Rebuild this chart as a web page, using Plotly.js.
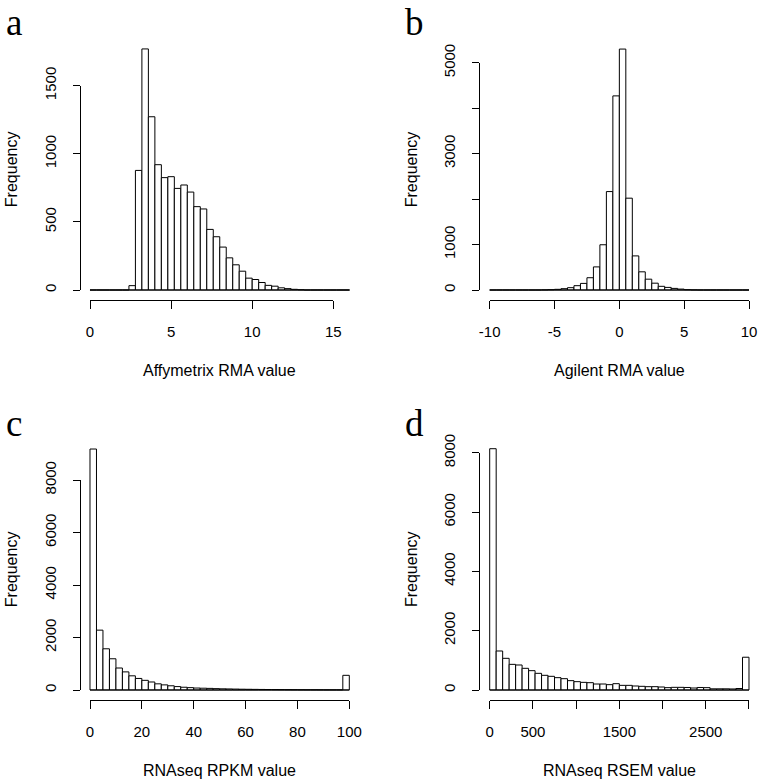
<!DOCTYPE html>
<html>
<head>
<meta charset="utf-8">
<script src="https://cdn.plot.ly/plotly-3.0.1.min.js"></script>
<style>html,body{margin:0;padding:0;background:#fff;}#chart{width:762px;height:783px;}</style>
</head>
<body>
<div id="chart"></div>
<script>
// ---------------- DATA ----------------
// Panel a: Affymetrix RMA value histogram (breaks 0..16 by 0.4)
const affyBreakStart = 0;
const affyBinWidth = 0.4;
const affyCounts = [0,0,0,0,0,0,32,878,1770,1272,920,825,832,746,771,719,612,595,445,391,
                    315,236,185,138,87,77,55,34,28,16,10,5,2,0,0,0,0,0,0,0];
const affyTickVals = [0,5,10,15];
const affyTickText = ['0','5','10','15'];
const affyYTickVals = [0,500,1000,1500];
const affyYTickText = ['0','500','1000','1500'];

// Panel b: Agilent RMA value histogram (breaks -10..10 by 0.5)
const agilBreakStart = -10;
const agilBinWidth = 0.5;
const agilCounts = [0,0,0,0,0,0,0,0,3,7,15,29,51,95,145,270,508,995,2165,4270,
                    5300,2020,750,400,238,150,81,57,35,20,7,2,0,0,0,0,0,0,0,0];
const agilTickVals = [-10,-5,0,5,10];
const agilTickText = ['-10','-5','0','5','10'];
const agilYTickVals = [0,1000,2000,3000,4000,5000];
const agilYTickText = ['0','1000','','3000','','5000'];

// Panel c: RNAseq RPKM value histogram (breaks 0..100 by 2.5)
const rpkmBreakStart = 0;
const rpkmBinWidth = 2.5;
const rpkmCounts = [9180,2280,1570,1190,838,690,540,440,368,305,235,195,160,130,105,90,75,68,62,52,
                    45,40,35,30,27,24,21,19,17,15,13,12,10,9,8,7,6,6,5,559];
const rpkmTickVals = [0,20,40,60,80,100];
const rpkmTickText = ['0','20','40','60','80','100'];
const rpkmYTickVals = [0,2000,4000,6000,8000];
const rpkmYTickText = ['0','2000','4000','6000','8000'];

// Panel d: RNAseq RSEM value histogram (breaks 0..3000 by 75)
const rsemBreakStart = 0;
const rsemBinWidth = 75;
const rsemCounts = [8135,1315,1068,865,843,731,652,562,495,461,416,382,315,281,258,247,202,202,180,213,
                    157,157,135,124,112,112,101,79,90,90,85,67,85,79,40,40,40,35,50,1105];
const rsemTickVals = [0,500,1000,1500,2000,2500,3000];
const rsemTickText = ['0','500','','1500','','2500',''];
const rsemYTickVals = [0,2000,4000,6000,8000];
const rsemYTickText = ['0','2000','4000','6000','8000'];

const panelLetters = ['a','b','c','d'];
const xTitles = ['Affymetrix RMA value','Agilent RMA value','RNAseq RPKM value','RNAseq RSEM value'];
const yTitle = 'Frequency';

// ---------------- LAYOUT (pixel calibration) ----------------
const W = 762, H = 783;
const FONT = 'Liberation Sans, Arial, sans-serif';
const panels = [
  {counts: affyCounts, start: affyBreakStart, bw: affyBinWidth, xt: affyTickVals, xtt: affyTickText, yt: affyYTickVals, ytt: affyYTickText,
   xRefVal: 0, xRefPx: 90, xs: 16.22, yRefPx: 290, ys: 0.1362, left: 0, top: 0},
  {counts: agilCounts, start: agilBreakStart, bw: agilBinWidth, xt: agilTickVals, xtt: agilTickText, yt: agilYTickVals, ytt: agilYTickText,
   xRefVal: -10, xRefPx: 489.7, xs: 12.965, yRefPx: 290, ys: 0.04546, left: 400, top: 0},
  {counts: rpkmCounts, start: rpkmBreakStart, bw: rpkmBinWidth, xt: rpkmTickVals, xtt: rpkmTickText, yt: rpkmYTickVals, ytt: rpkmYTickText,
   xRefVal: 0, xRefPx: 90, xs: 2.593, yRefPx: 690, ys: 0.02625, left: 0, top: 400},
  {counts: rsemCounts, start: rsemBreakStart, bw: rsemBinWidth, xt: rsemTickVals, xtt: rsemTickText, yt: rsemYTickVals, ytt: rsemYTickText,
   xRefVal: 0, xRefPx: 489.7, xs: 0.08643, yRefPx: 690, ys: 0.02966, left: 400, top: 400}
];

function xPx(p, v){ return p.xRefPx + (v - p.xRefVal) * p.xs; }
function yPx(p, v){ return p.yRefPx - v * p.ys; }

const traces = [];
const layout = {
  width: W, height: H,
  margin: {l:0, r:0, t:0, b:0},
  paper_bgcolor: '#ffffff', plot_bgcolor: 'rgba(0,0,0,0)',
  showlegend: false,
  bargap: 0,
  annotations: []
};

panels.forEach((p, i) => {
  const n = i + 1, m = i + 5;
  const nb = p.counts.length;
  const lastBreak = p.start + nb * p.bw;
  const span = lastBreak - p.start;
  const xr = [p.start - 0.04 * span, lastBreak + 0.04 * span];
  const maxC = Math.max(...p.counts);
  const yr = [-0.04 * maxC, 1.04 * maxC];
  const centers = p.counts.map((_, k) => p.start + p.bw * (k + 0.5));

  const xa = 'x' + (n === 1 ? '' : n), ya = 'y' + (n === 1 ? '' : n);
  traces.push({type: 'bar', x: centers, y: p.counts, width: p.bw, xaxis: xa, yaxis: ya,
    marker: {color: '#ffffff', line: {color: '#000000', width: 1}}, hoverinfo: 'x+y'});
  traces.push({type: 'scatter', mode: 'lines', x: [p.start, lastBreak], y: [0, 0], xaxis: xa, yaxis: ya,
    line: {color: '#000000', width: 1}, hoverinfo: 'skip'});
  traces.push({type: 'scatter', mode: 'markers', x: [], y: [], xaxis: 'x' + m, yaxis: 'y' + m, hoverinfo: 'skip'});

  const xl = xPx(p, xr[0]), xrpx = xPx(p, xr[1]);
  const yb = yPx(p, yr[0]), yt = yPx(p, yr[1]);
  layout['xaxis' + (n === 1 ? '' : n)] = {domain: [xl / W, xrpx / W], range: xr, visible: false, fixedrange: true, anchor: ya};
  layout['yaxis' + (n === 1 ? '' : n)] = {domain: [1 - yb / H, 1 - yt / H], range: yr, visible: false, fixedrange: true, anchor: xa};

  const tx0 = p.xt[0], tx1 = p.xt[p.xt.length - 1];
  const ty0 = p.yt[0], ty1 = p.yt[p.yt.length - 1];
  layout['xaxis' + m] = {
    domain: [xPx(p, tx0) / W, xPx(p, tx1) / W], range: [tx0, tx1],
    anchor: 'free', position: 1 - yb / H,
    showline: true, linecolor: '#000', linewidth: 1, showgrid: false, zeroline: false,
    ticks: 'outside', ticklen: 8, tickwidth: 1, tickcolor: '#000',
    tickmode: 'array', tickvals: p.xt, ticktext: p.xtt, ticklabelstandoff: 10,
    tickfont: {family: FONT, size: 15, color: '#000'}, fixedrange: true
  };
  layout['yaxis' + m] = {
    domain: [1 - yPx(p, ty0) / H, 1 - yPx(p, ty1) / H], range: [ty0, ty1],
    anchor: 'free', position: xl / W,
    showline: true, linecolor: '#000', linewidth: 1, showgrid: false, zeroline: false,
    ticks: 'outside', ticklen: 7, tickwidth: 1, tickcolor: '#000',
    tickmode: 'array', tickvals: p.yt, ticktext: p.ytt, tickangle: -90, ticklabelstandoff: 11,
    tickfont: {family: FONT, size: 15, color: '#000'}, fixedrange: true
  };

  layout.annotations.push({xref: 'paper', yref: 'paper', x: xPx(p, (xr[0] + xr[1]) / 2) / W, y: 1 - (p.top + 370) / H,
    text: xTitles[i], showarrow: false, xanchor: 'center', yanchor: 'middle',
    font: {family: FONT, size: 16, color: '#000'}});
  layout.annotations.push({xref: 'paper', yref: 'paper', x: (p.left + 11.7) / W, y: 1 - ((yb + yt) / 2) / H,
    text: yTitle, showarrow: false, textangle: -90, xanchor: 'center', yanchor: 'middle',
    font: {family: FONT, size: 16, color: '#000'}});
  layout.annotations.push({xref: 'paper', yref: 'paper', x: (p.left + 14) / W, y: 1 - (p.top + 23) / H,
    text: panelLetters[i], showarrow: false, xanchor: 'center', yanchor: 'middle',
    font: {family: 'Liberation Serif, Times New Roman, serif', size: 37, color: '#000'}});
});

Plotly.newPlot('chart', traces, layout, {displayModeBar: false, staticPlot: true});
</script>
</body>
</html>
